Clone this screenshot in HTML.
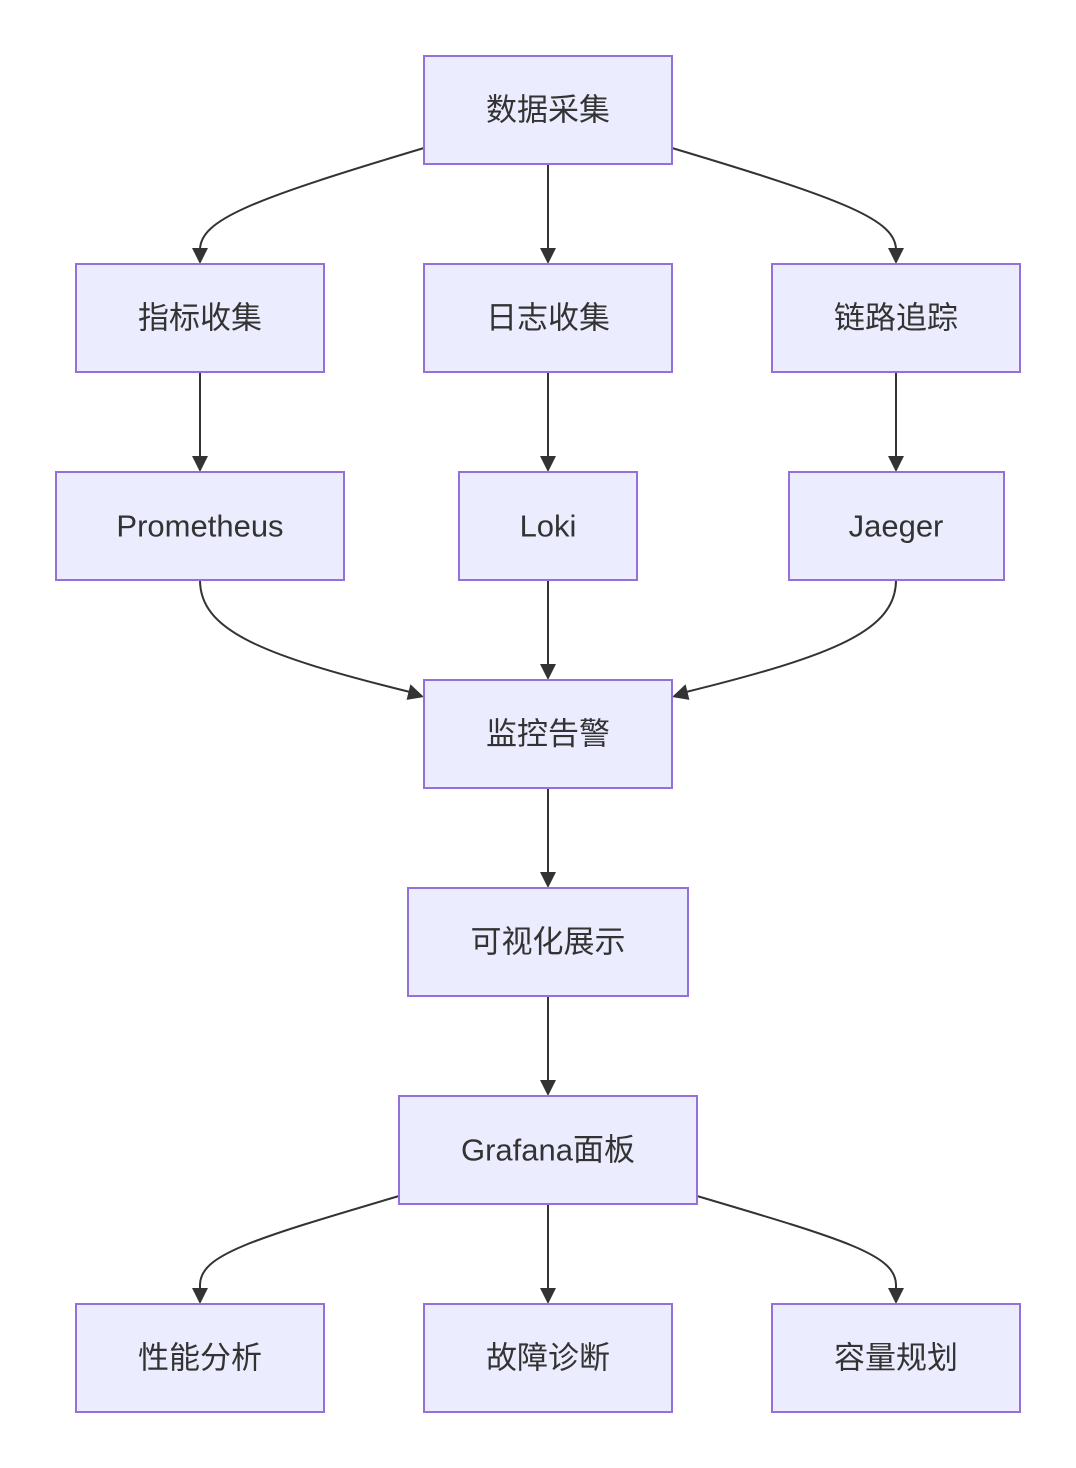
<!DOCTYPE html>
<html><head><meta charset="utf-8"><style>
html,body{margin:0;padding:0;background:#fff;}
svg{display:block;}
text{font-family:"Liberation Sans","Noto Sans CJK SC",sans-serif;font-size:31px;fill:#333;text-anchor:middle;dominant-baseline:central;}
rect{fill:#ECECFF;stroke:#9370DB;stroke-width:2;}
path{fill:none;stroke:#333;stroke-width:2;}
polygon{fill:#333;stroke:none;}
</style></head><body>
<svg width="1076" height="1468" viewBox="0 0 1076 1468" xmlns="http://www.w3.org/2000/svg">
<path d="M424,148 C250,200 200,220 200,250 L200,252" />
<path d="M548,164 L548,252" />
<path d="M672,148 C846,200 896,220 896,250 L896,252" />
<path d="M200,372 L200,460" />
<path d="M548,372 L548,460" />
<path d="M896,372 L896,460" />
<path d="M200,580 C200,630 260,655 410,692" />
<path d="M548,580 L548,668" />
<path d="M896,580 C896,630 836,655 686,692" />
<path d="M548,788 L548,876" />
<path d="M548,996 L548,1084" />
<path d="M399,1196 C250,1240 200,1255 200,1285 L200,1292" />
<path d="M548,1204 L548,1292" />
<path d="M697,1196 C846,1240 896,1255 896,1285 L896,1292" />
<polygon points="192,248 208,248 200,264"/>
<polygon points="540,248 556,248 548,264"/>
<polygon points="888,248 904,248 896,264"/>
<polygon points="192,456 208,456 200,472"/>
<polygon points="540,456 556,456 548,472"/>
<polygon points="888,456 904,456 896,472"/>
<polygon points="540,664 556,664 548,680"/>
<polygon points="540,872 556,872 548,888"/>
<polygon points="540,1080 556,1080 548,1096"/>
<polygon points="192,1288 208,1288 200,1304"/>
<polygon points="540,1288 556,1288 548,1304"/>
<polygon points="888,1288 904,1288 896,1304"/>
<polygon points="424,697 410.4,684.3 406.6,699.9"/>
<polygon points="672,697 685.6,684.3 689.4,699.9"/>
<rect x="424" y="56" width="248" height="108"/><text x="548" y="110">数据采集</text>
<rect x="76" y="264" width="248" height="108"/><text x="200" y="318">指标收集</text>
<rect x="424" y="264" width="248" height="108"/><text x="548" y="318">日志收集</text>
<rect x="772" y="264" width="248" height="108"/><text x="896" y="318">链路追踪</text>
<rect x="56" y="472" width="288" height="108"/><text x="200" y="526">Prometheus</text>
<rect x="459" y="472" width="178" height="108"/><text x="548" y="526">Loki</text>
<rect x="789" y="472" width="215" height="108"/><text x="896" y="526">Jaeger</text>
<rect x="424" y="680" width="248" height="108"/><text x="548" y="734">监控告警</text>
<rect x="408" y="888" width="280" height="108"/><text x="548" y="942">可视化展示</text>
<rect x="399" y="1096" width="298" height="108"/><text x="548" y="1150">Grafana面板</text>
<rect x="76" y="1304" width="248" height="108"/><text x="200" y="1358">性能分析</text>
<rect x="424" y="1304" width="248" height="108"/><text x="548" y="1358">故障诊断</text>
<rect x="772" y="1304" width="248" height="108"/><text x="896" y="1358">容量规划</text>
</svg>
</body></html>
